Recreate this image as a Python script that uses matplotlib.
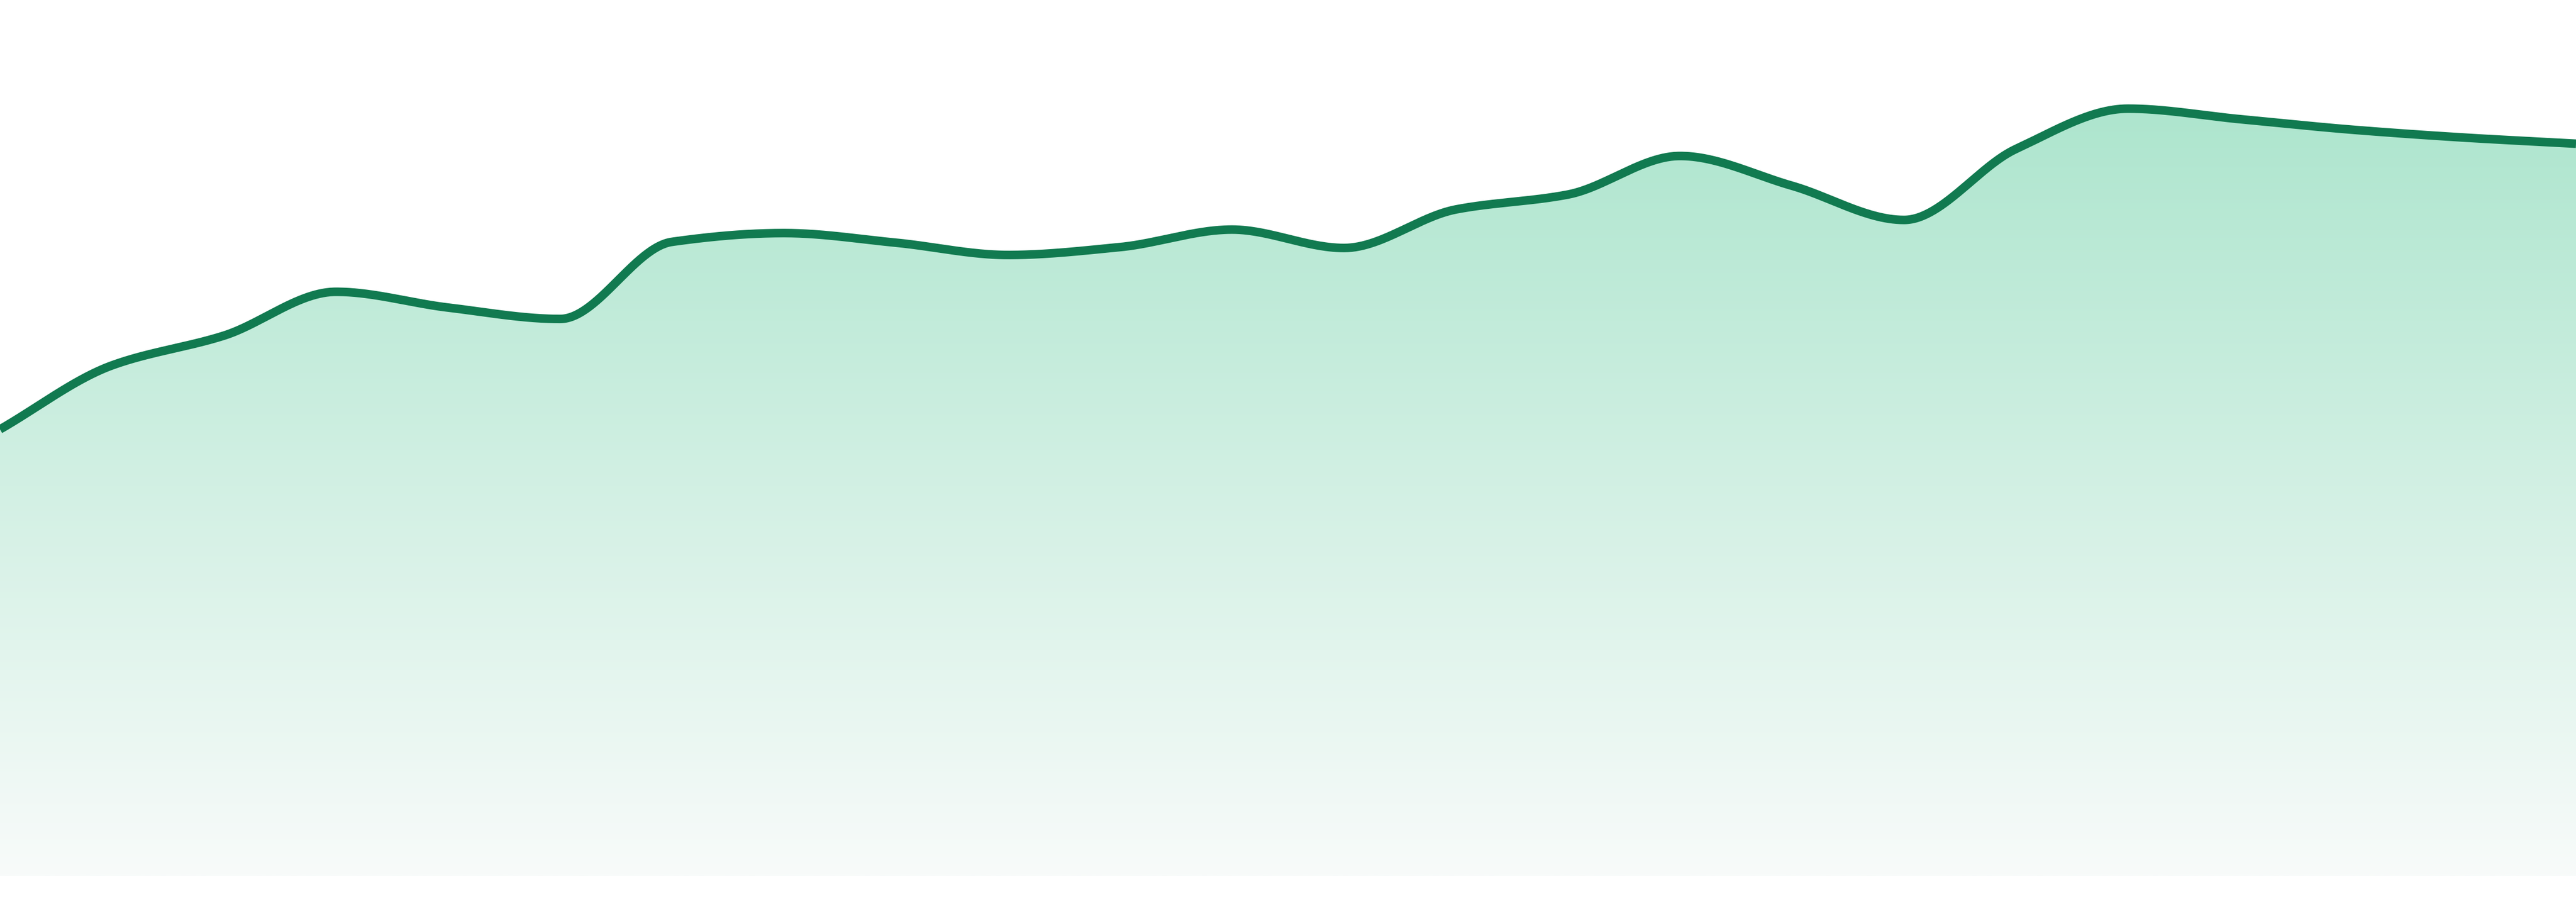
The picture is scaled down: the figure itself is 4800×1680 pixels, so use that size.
import numpy as np
import matplotlib
matplotlib.use('Agg')
import matplotlib.pyplot as plt
from matplotlib.patches import Polygon

# values (baseline = 0, top of canvas = 100)
values = [51.0, 58.3, 61.7, 66.7, 64.9, 63.6, 72.4, 73.4, 72.3, 70.9, 71.8, 73.8,
          71.7, 76.1, 77.8, 82.2, 78.8, 74.9, 83.0, 87.6, 86.4, 85.2, 84.3, 83.6]
lineColor = '#117a50'
topColor = np.array([172, 229, 205]) / 255.0
bottomColor = np.array([248, 251, 250]) / 255.0


def monotoneCurve(xs, ys, steps=60):
    # monotone cubic (Fritsch-Carlson) so the line looks like the original smooth curve
    xs = np.asarray(xs, float)
    ys = np.asarray(ys, float)
    h = np.diff(xs)
    d = np.diff(ys) / h
    m = np.zeros_like(ys)
    m[0] = d[0]
    m[-1] = d[-1]
    for i in range(1, len(ys) - 1):
        if d[i - 1] * d[i] <= 0:
            m[i] = 0
        else:
            w1 = 2 * h[i] + h[i - 1]
            w2 = h[i] + 2 * h[i - 1]
            m[i] = (w1 + w2) / (w1 / d[i - 1] + w2 / d[i])
    outX = []
    outY = []
    for i in range(len(xs) - 1):
        t = np.linspace(0, 1, steps, endpoint=False)
        h00 = 2 * t**3 - 3 * t**2 + 1
        h10 = t**3 - 2 * t**2 + t
        h01 = -2 * t**3 + 3 * t**2
        h11 = t**3 - t**2
        outX.extend(xs[i] + t * h[i])
        outY.extend(h00 * ys[i] + h10 * h[i] * m[i] + h01 * ys[i + 1] + h11 * h[i] * m[i + 1])
    outX.append(xs[-1])
    outY.append(ys[-1])
    return np.array(outX), np.array(outY)


x = np.arange(len(values))
smoothX, smoothY = monotoneCurve(x, values)

fig = plt.figure(figsize=(48, 16.8), dpi=100)
ax = fig.add_axes([0, 0, 1, 1])
ax.axis('off')

# gradient fill under the curve
yTop = max(values) + 1.5
grad = np.linspace(0, 1, 256)[:, None]
rgb = bottomColor[None, :] + (topColor - bottomColor)[None, :] * grad
img = np.repeat(rgb[:, None, :], 2, axis=1)
im = ax.imshow(img, extent=[0, len(values) - 1, 0, yTop], origin='lower',
               aspect='auto', zorder=1, interpolation='bilinear')
polyPts = np.column_stack([np.concatenate([smoothX, [smoothX[-1], smoothX[0]]]),
                           np.concatenate([smoothY, [0, 0]])])
clip = Polygon(polyPts, closed=True, facecolor='none', edgecolor='none')
ax.add_patch(clip)
im.set_clip_path(clip)

ax.plot(smoothX, smoothY, color=lineColor, lw=11.5, solid_capstyle='butt',
        solid_joinstyle='round', zorder=3)

# limits after imshow, which resets them
ax.set_xlim(0, len(values) - 1)
ax.set_ylim(-2.94, 100)

fig.savefig('out.png', dpi=100, facecolor='white')
